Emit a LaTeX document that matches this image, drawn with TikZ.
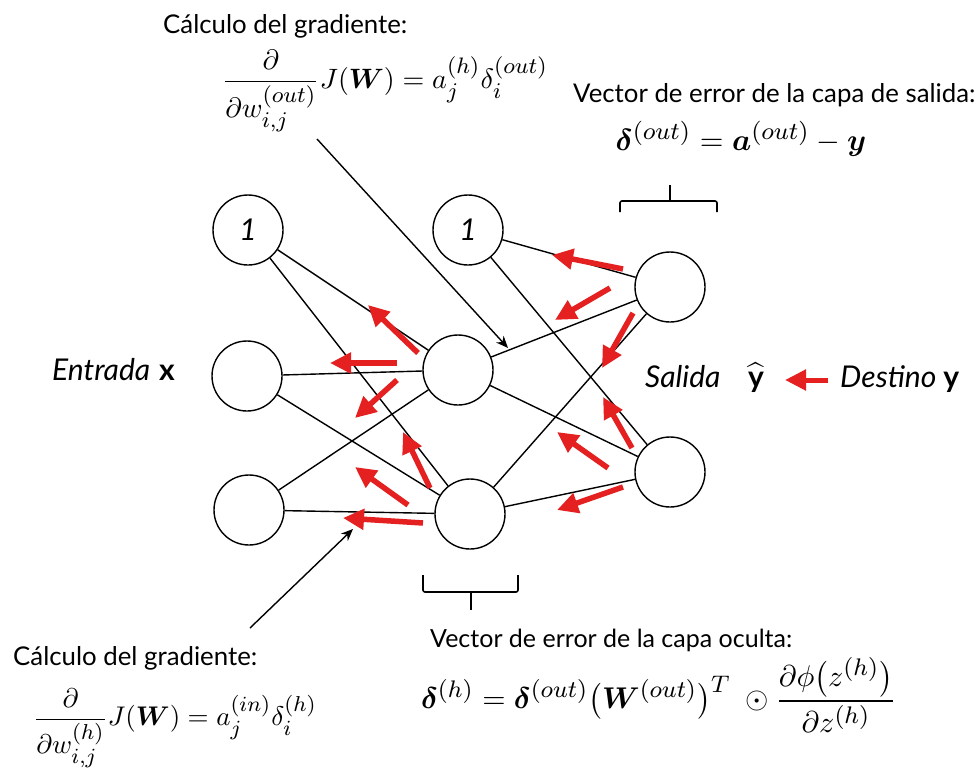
\documentclass[tikz,border=0pt]{standalone}
\usepackage{amsmath,bm,graphicx}
\usepackage{fontspec}
\setmainfont{Lato}
\usetikzlibrary{arrows.meta}
\DeclareMathSizes{10}{10}{8}{6}
\definecolor{arrred}{RGB}{228,32,32}
\begin{document}
\begin{tikzpicture}[x=1pt,y=-1pt,
  neuron/.style={circle,draw,line width=1.4pt,minimum size=70pt,inner sep=0pt,font=\fontsize{30}{34}\selectfont\itshape},
  conn/.style={line width=1.4pt},
  back/.style={draw=arrred,line width=5.5pt,-{Triangle[length=21pt,width=20pt]}},
  ptr/.style={line width=1.4pt,-{Stealth[length=12pt,width=10pt]}},
  lbl/.style={font=\fontsize{25.8}{30}\selectfont,inner sep=0pt},
  ilbl/.style={font=\fontsize{30}{34}\selectfont,inner sep=0pt},
  formula/.style={font=\fontsize{10}{12}\selectfont,inner sep=0pt},
  brace/.style={line width=1.6pt}]
\useasboundingbox[fill=white] (0,0) rectangle (978,771);

% neurons
\node[neuron] (i0) at (248,230) {1};
\node[neuron] (i1) at (247,376) {};
\node[neuron] (i2) at (249,510) {};
\node[neuron] (h0) at (468,230) {1};
\node[neuron] (h1) at (458,370) {};
\node[neuron] (h2) at (470,514) {};
\node[neuron] (o1) at (670,287) {};
\node[neuron] (o2) at (670,472) {};

% connections
\foreach \a in {i0,i1,i2} \foreach \b in {h1,h2} \draw[conn] (\a) -- (\b);
\foreach \a in {h0,h1,h2} \foreach \b in {o1,o2} \draw[conn] (\a) -- (\b);

% red backprop arrows
\draw[back] (418,353) -- (368,305);
\draw[back] (397,363) -- (330,363);
\draw[back] (397,380) -- (355,418);
\draw[back] (430,488) -- (403,432);
\draw[back] (408,505) -- (355,467);
\draw[back] (423,523) -- (343,518);
\draw[back] (623,269) -- (552,255);
\draw[back] (610,288) -- (555,320);
\draw[back] (633,313) -- (602,368);
\draw[back] (632,448) -- (603,397);
\draw[back] (608,468) -- (557,432);
\draw[back] (623,487) -- (557,510);

% labels
\node[ilbl,anchor=base west] (inlbl) at (52,380) {\textit{Entrada}\hspace{9pt}\textbf{x}};
\node[ilbl,anchor=base west] (outlbl) at (645,387) {\textit{Salida}};
\node[formula,anchor=base] (yhat) at (756,387) {\scalebox{3}{$\widehat{\text{\textbf{y}}}$}};
\node[ilbl,anchor=base west] (tgtlbl) at (840,387) {\textit{Destino}\hspace{7pt}\textbf{y}};
\coordinate (tg) at (828,380);
\coordinate (tgend) at (785,380);
\draw[back,line width=5pt] (tg) -- (tgend);

% top gradient
\node[lbl,anchor=base west] (t1) at (163,33) {Cálculo del gradiente:};
\node[formula] (f1) at (385,91) {\scalebox{2.8}{$\displaystyle\frac{\partial}{\partial w^{(out)}_{i,j}}J(\bm{W}) = a^{(h)}_j\delta^{(out)}_i$}};
\coordinate (p1s) at (317,139);
\coordinate (p1e) at (508,348);
\draw[ptr] (p1s) -- (p1e);

% output error
\node[lbl,anchor=base west] (t2) at (573,102) {Vector de error de la capa de salida:};
\node[formula] (f2) at (741,139) {\scalebox{3.05}{$\bm{\delta}^{(out)} = \bm{a}^{(out)} - \bm{y}$}};
\draw[brace,rounded corners=2pt] (620,212) -- (620,201) -- (717,201) -- (717,212);
\draw[brace] (670,201) -- (670,185);

% hidden error
\draw[brace,rounded corners=2pt] (423,575) -- (423,592) -- (518,592) -- (518,575);
\draw[brace] (471,592) -- (471,610);
\node[lbl,anchor=base west,font=\fontsize{25}{29}\selectfont] (t3) at (430,647) {Vector de error de la capa oculta:};
\node[formula] (f3) at (659,695) {\scalebox{3.0}{$\bm{\delta}^{(h)} = \bm{\delta}^{(out)}\big(\bm{W}^{(out)}\big)^{T}\ \odot\displaystyle\frac{\partial\phi\big(z^{(h)}\big)}{\partial z^{(h)}}$}};

% bottom gradient
\node[lbl,anchor=base west] (t4) at (13,665) {Cálculo del gradiente:};
\node[formula] (f4) at (175,728) {\scalebox{2.7}{$\displaystyle\frac{\partial}{\partial w^{(h)}_{i,j}}J(\bm{W}) = a^{(in)}_j\delta^{(h)}_i$}};
\coordinate (p2s) at (250,628);
\coordinate (p2e) at (353,529);
\draw[ptr] (p2s) -- (p2e);
\end{tikzpicture}
\end{document}
